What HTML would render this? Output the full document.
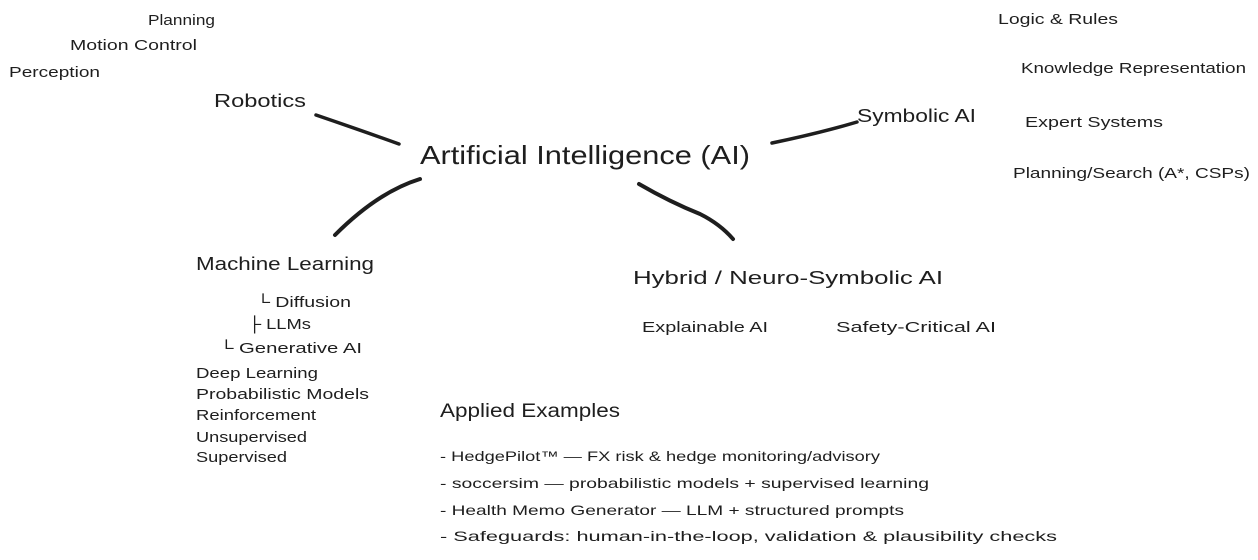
<!DOCTYPE html>
<html><head><meta charset="utf-8"><style>
html,body{margin:0;padding:0;background:#fff;width:1258px;height:560px;overflow:hidden}
svg text{font-family:"Liberation Sans",sans-serif;fill:#1e1e1e}
</style></head><body>
<svg width="1258" height="560" viewBox="0 0 1258 560" xmlns="http://www.w3.org/2000/svg">
<g stroke="#1e1e1e" fill="none" stroke-linecap="round">
<path d="M316 115 Q360 130 399 144" stroke-width="3.5"/>
<path d="M772 143 Q820 133 857 122" stroke-width="3.5"/>
<path d="M420 179 Q378 192 335 235" stroke-width="4"/>
<path d="M639 184 Q670 202 700 214 Q720 224 733 239" stroke-width="4"/>
</g>
<g font-size="15">
<text x="148" y="25" textLength="67" lengthAdjust="spacingAndGlyphs">Planning</text>
<text x="70" y="50" textLength="127" lengthAdjust="spacingAndGlyphs">Motion Control</text>
<text x="9" y="77" textLength="91" lengthAdjust="spacingAndGlyphs">Perception</text>
<text x="998" y="24" textLength="120" lengthAdjust="spacingAndGlyphs">Logic &amp; Rules</text>
<text x="1021" y="73" textLength="225" lengthAdjust="spacingAndGlyphs">Knowledge Representation</text>
<text x="1025" y="127" textLength="138" lengthAdjust="spacingAndGlyphs">Expert Systems</text>
<text x="1013" y="178" textLength="237" lengthAdjust="spacingAndGlyphs">Planning/Search (A*, CSPs)</text>
<text x="256" y="307" textLength="95" lengthAdjust="spacingAndGlyphs">└ Diffusion</text>
<text x="248" y="329" textLength="63" lengthAdjust="spacingAndGlyphs">├ LLMs</text>
<text x="219" y="353" textLength="143" lengthAdjust="spacingAndGlyphs">└ Generative AI</text>
<text x="196" y="378" textLength="122" lengthAdjust="spacingAndGlyphs">Deep Learning</text>
<text x="196" y="399" textLength="173" lengthAdjust="spacingAndGlyphs">Probabilistic Models</text>
<text x="196" y="420" textLength="120" lengthAdjust="spacingAndGlyphs">Reinforcement</text>
<text x="196" y="442" textLength="111" lengthAdjust="spacingAndGlyphs">Unsupervised</text>
<text x="196" y="462" textLength="91" lengthAdjust="spacingAndGlyphs">Supervised</text>
<text x="642" y="332" textLength="126" lengthAdjust="spacingAndGlyphs">Explainable AI</text>
<text x="836" y="332" textLength="160" lengthAdjust="spacingAndGlyphs">Safety-Critical AI</text>
</g>
<g font-size="18">
<text x="214" y="107" textLength="92" lengthAdjust="spacingAndGlyphs">Robotics</text>
<text x="857" y="122" textLength="119" lengthAdjust="spacingAndGlyphs">Symbolic AI</text>
<text x="196" y="270" textLength="178" lengthAdjust="spacingAndGlyphs">Machine Learning</text>
<text x="633" y="284" textLength="310" lengthAdjust="spacingAndGlyphs">Hybrid / Neuro-Symbolic AI</text>
<text x="440" y="417" font-size="19" textLength="180" lengthAdjust="spacingAndGlyphs">Applied Examples</text>
</g>
<text x="420" y="164" font-size="26" textLength="330" lengthAdjust="spacingAndGlyphs">Artificial Intelligence (AI)</text>
<g font-size="14">
<text x="440" y="461" textLength="440" lengthAdjust="spacingAndGlyphs">- HedgePilot™ — FX risk &amp; hedge monitoring/advisory</text>
<text x="440" y="488" textLength="489" lengthAdjust="spacingAndGlyphs">- soccersim — probabilistic models + supervised learning</text>
<text x="440" y="515" textLength="464" lengthAdjust="spacingAndGlyphs">- Health Memo Generator — LLM + structured prompts</text>
<text x="440" y="541" textLength="617" lengthAdjust="spacingAndGlyphs">- Safeguards: human-in-the-loop, validation &amp; plausibility checks</text>
</g>
</svg>
</body></html>
